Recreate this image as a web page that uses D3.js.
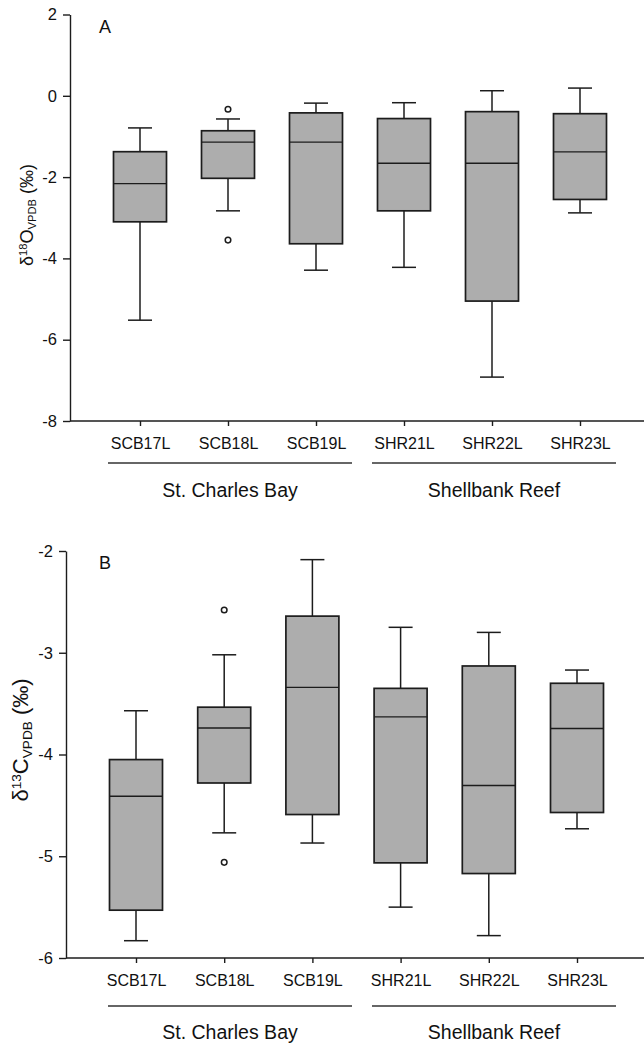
<!DOCTYPE html>
<html>
<head>
<meta charset="utf-8">
<script src="https://cdn.jsdelivr.net/npm/d3@7"></script>
<style>
  html, body { margin: 0; padding: 0; background: #fff; }
  svg { display: block; font-family: "Liberation Sans", Arial, sans-serif; }
</style>
</head>
<body>
<svg id="chart" width="644" height="1043"></svg>
<script>
// ---------- data ----------
const categories = ["SCB17L", "SCB18L", "SCB19L", "SHR21L", "SHR22L", "SHR23L"];
const groupNames = ["St. Charles Bay", "Shellbank Reef"];
const groupFirst = [0, 3];
const groupLast = [2, 5];

// Panel A: δ18O
const o18Ticks = [-8, -6, -4, -2, 0, 2];
const o18Low = [-5.52, -2.83, -4.29, -4.22, -6.92, -2.88];
const o18Q1 = [-3.10, -2.03, -3.64, -2.83, -5.05, -2.55];
const o18Median = [-2.16, -1.14, -1.14, -1.66, -1.66, -1.38];
const o18Q3 = [-1.375, -0.86, -0.42, -0.56, -0.39, -0.44];
const o18High = [-0.79, -0.57, -0.18, -0.17, 0.125, 0.19];
const o18Outliers = [[], [-0.33, -3.55], [], [], [], []];

// Panel B: δ13C
const c13Ticks = [-6, -5, -4, -3, -2];
const c13Low = [-5.83, -4.77, -4.87, -5.50, -5.78, -4.73];
const c13Q1 = [-5.53, -4.28, -4.59, -5.065, -5.17, -4.57];
const c13Median = [-4.41, -3.74, -3.34, -3.63, -4.305, -3.745];
const c13Q3 = [-4.05, -3.535, -2.64, -3.35, -3.13, -3.30];
const c13High = [-3.57, -3.02, -2.085, -2.75, -2.80, -3.17];
const c13Outliers = [[], [-2.58, -5.06], [], [], [], []];

// ---------- drawing ----------
const svg = d3.select("#chart");
const ink = "#1c1c1c";
const boxFill = "#adadad";

function drawPanel(cfg) {
  const g = svg.append("g");
  const y = d3.scaleLinear().domain(cfg.domain).range([cfg.yBottom, cfg.yTop]);
  const x = d3.scalePoint().domain(categories).range(cfg.xRange);
  const groupX = cfg.groupScale || x;

  // y axis
  const yAxis = g.append("g")
    .attr("transform", `translate(${cfg.xAxisLeft},0)`)
    .call(d3.axisLeft(y).tickValues(cfg.ticks).tickSize(7).tickSizeOuter(0).tickPadding(6)
      .tickFormat(d => String(d)));
  yAxis.selectAll("path, line").attr("stroke", ink).attr("stroke-width", 1.4);
  yAxis.selectAll("text").attr("fill", "#111").attr("font-size", 16.5)
    .attr("font-family", "Liberation Sans, Arial, sans-serif");

  // x axis
  const xAxis = g.append("g")
    .attr("transform", `translate(0,${cfg.yBottom})`)
    .call(d3.axisBottom(x).tickSize(5).tickSizeOuter(0).tickPadding(12));
  xAxis.select(".domain").remove();
  xAxis.selectAll("line").attr("stroke", ink).attr("stroke-width", 1.4);
  xAxis.selectAll("text").attr("fill", "#111").attr("font-size", 16)
    .attr("font-family", "Liberation Sans, Arial, sans-serif");
  g.append("line")
    .attr("x1", cfg.xAxisLeft).attr("x2", 644)
    .attr("y1", cfg.yBottom).attr("y2", cfg.yBottom)
    .attr("stroke", ink).attr("stroke-width", 1.4);

  // boxes
  const data = categories.map((c, i) => ({
    c, low: cfg.low[i], q1: cfg.q1[i], med: cfg.median[i], q3: cfg.q3[i], high: cfg.high[i], out: cfg.outliers[i]
  }));
  const bw = 53, cw = 24;
  const b = g.selectAll(".box").data(data).join("g").attr("class", "box");
  b.append("line").attr("x1", d => x(d.c)).attr("x2", d => x(d.c))
    .attr("y1", d => y(d.low)).attr("y2", d => y(d.q1)).attr("stroke", ink).attr("stroke-width", 1.5);
  b.append("line").attr("x1", d => x(d.c)).attr("x2", d => x(d.c))
    .attr("y1", d => y(d.q3)).attr("y2", d => y(d.high)).attr("stroke", ink).attr("stroke-width", 1.5);
  b.append("line").attr("x1", d => x(d.c) - cw / 2).attr("x2", d => x(d.c) + cw / 2)
    .attr("y1", d => y(d.low)).attr("y2", d => y(d.low)).attr("stroke", ink).attr("stroke-width", 1.5);
  b.append("line").attr("x1", d => x(d.c) - cw / 2).attr("x2", d => x(d.c) + cw / 2)
    .attr("y1", d => y(d.high)).attr("y2", d => y(d.high)).attr("stroke", ink).attr("stroke-width", 1.5);
  b.append("rect").attr("x", d => x(d.c) - bw / 2).attr("width", bw)
    .attr("y", d => y(d.q3)).attr("height", d => y(d.q1) - y(d.q3))
    .attr("fill", boxFill).attr("stroke", ink).attr("stroke-width", 1.7);
  b.append("line").attr("x1", d => x(d.c) - bw / 2).attr("x2", d => x(d.c) + bw / 2)
    .attr("y1", d => y(d.med)).attr("y2", d => y(d.med)).attr("stroke", ink).attr("stroke-width", 1.4);
  b.selectAll("circle").data(d => d.out.map(v => ({ c: d.c, v }))).join("circle")
    .attr("cx", d => x(d.c)).attr("cy", d => y(d.v)).attr("r", 2.8)
    .attr("fill", "#fff").attr("stroke", ink).attr("stroke-width", 1.5);

  // group lines and labels
  groupNames.forEach((name, gi) => {
    const x1 = groupX(categories[groupFirst[gi]]) - 32;
    const x2 = groupX(categories[groupLast[gi]]) + 36;
    g.append("line").attr("x1", x1).attr("x2", x2)
      .attr("y1", cfg.groupLineY).attr("y2", cfg.groupLineY)
      .attr("stroke", "#333").attr("stroke-width", 1.3);
    g.append("text").attr("x", (x1 + x2) / 2).attr("y", cfg.groupTextY)
      .attr("text-anchor", "middle").attr("font-size", 19.5).attr("fill", "#111")
      .text(name);
  });

  // panel letter
  g.append("text").attr("x", 105).attr("y", cfg.letterY).attr("text-anchor", "middle")
    .attr("font-size", 18).attr("fill", "#111").text(cfg.letter);

  // y title
  const t = g.append("text")
    .attr("transform", `translate(${cfg.titleX},${cfg.titleY}) rotate(-90)`)
    .attr("text-anchor", "middle").attr("font-size", cfg.titleSize).attr("fill", "#111");
  t.append("tspan").text("δ");
  t.append("tspan").attr("font-size", "0.62em").attr("dy", "-0.55em").text(cfg.iso);
  t.append("tspan").attr("dy", "0.34em").text(cfg.elem);
  t.append("tspan").attr("font-size", "0.62em").attr("dy", "0.3em").text("VPDB");
  t.append("tspan").attr("dy", "-0.19em").text(" (‰)");
  return x;
}

const xA = drawPanel({
  domain: [-8, 2], ticks: o18Ticks, yTop: 14.5, yBottom: 421, xAxisLeft: 70,
  xRange: [140, 580],
  low: o18Low, q1: o18Q1, median: o18Median, q3: o18Q3, high: o18High, outliers: o18Outliers,
  groupLineY: 463, groupTextY: 497, letter: "A", letterY: 33,
  titleX: 33, titleY: 215, titleSize: 18, iso: "18", elem: "O"
});

drawPanel({
  domain: [-6, -2], ticks: c13Ticks, yTop: 551, yBottom: 958, xAxisLeft: 66,
  xRange: [136, 577], groupScale: xA,
  low: c13Low, q1: c13Q1, median: c13Median, q3: c13Q3, high: c13High, outliers: c13Outliers,
  groupLineY: 1006, groupTextY: 1039, letter: "B", letterY: 569,
  titleX: 28, titleY: 740, titleSize: 22, iso: "13", elem: "C"
});
</script>
</body>
</html>
